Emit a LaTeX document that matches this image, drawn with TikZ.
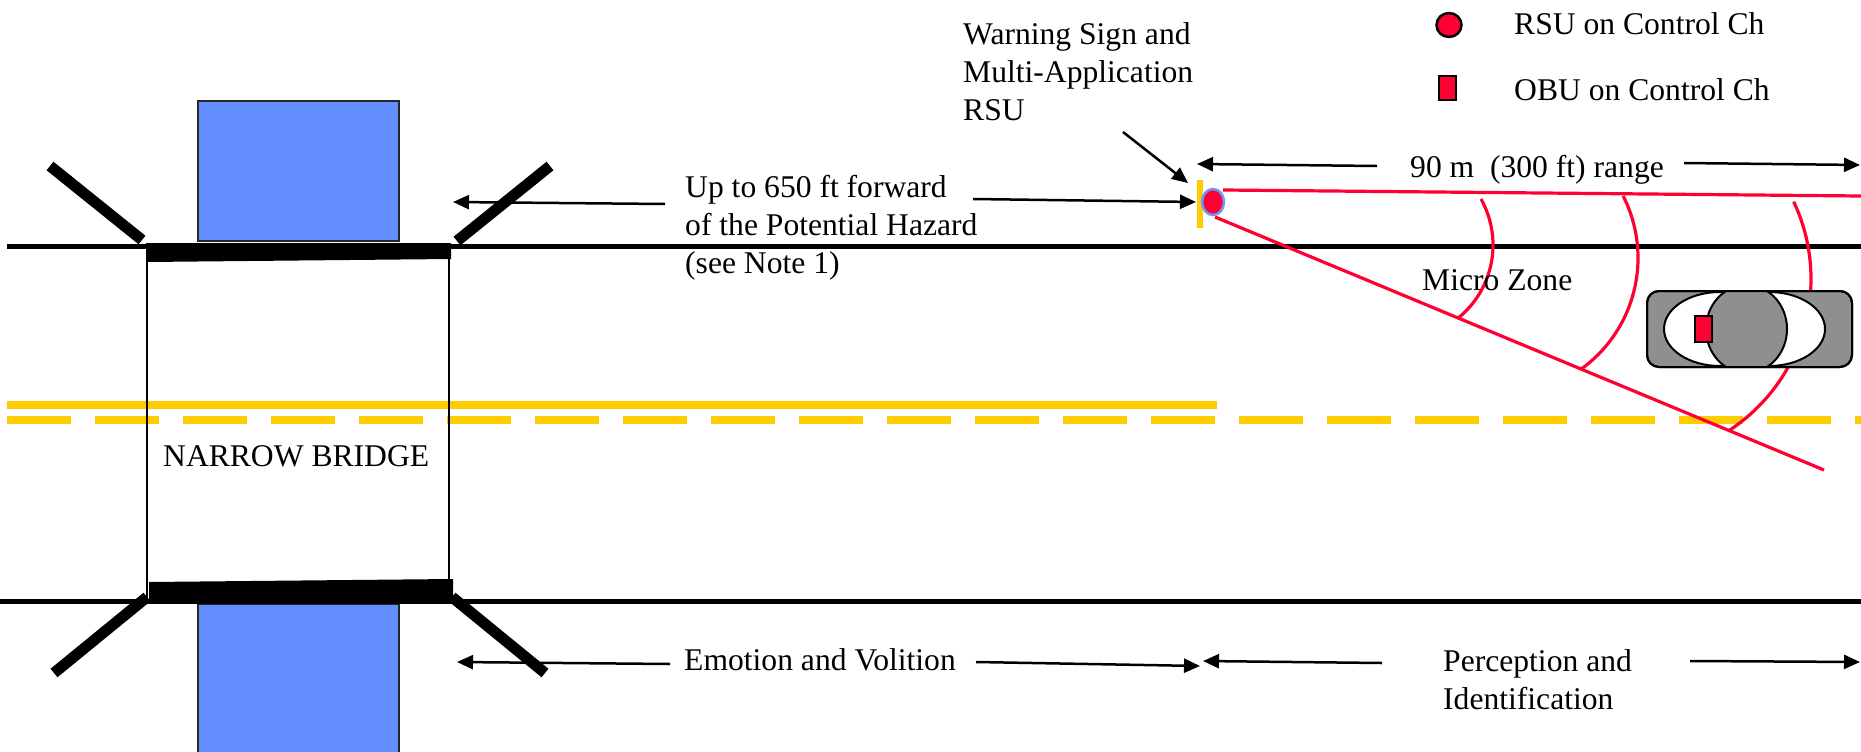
\documentclass[tikz,border=0pt]{standalone}
\usepackage{fontspec}
\setmainfont{Liberation Serif}
\usetikzlibrary{arrows.meta}
\definecolor{laneyellow}{RGB}{255,204,0}
\definecolor{pierblue}{RGB}{99,142,255}
\definecolor{zonered}{RGB}{255,0,51}
\definecolor{cargray}{RGB}{143,143,143}
\definecolor{rsuedge}{RGB}{107,150,255}
\begin{document}
\begin{tikzpicture}[x=1pt,y=-1pt,
  lbl/.style={font=\fontsize{31.6}{38}\selectfont, inner sep=0pt, anchor=base west},
  dimarrow/.style={line width=2.5pt, -{Triangle[length=16pt,width=14pt]}},
  wall/.style={line width=11pt},
  roadedge/.style={line width=5pt},
  lane/.style={laneyellow, line width=7.5pt},
  zone/.style={zonered, line width=3.2pt},
  pier/.style={fill=pierblue, draw=black!85, line width=2pt},
  blk/.style={draw=black, line width=2.5pt},
]
\useasboundingbox (0,0) rectangle (1861,752);

% bridge piers
\draw[pier] (198,101) rectangle (399,241);
\draw[pier] (198,604) rectangle (399,760);

% road edges
\draw[roadedge] (7,246) -- (1861,246);
\draw[roadedge] (0,601) -- (1861,601);

% centre lines
\draw[lane] (7,405) -- (1217,405);
\draw[lane, dash pattern=on 64pt off 24pt] (7,420) -- (1861,420);

% narrow bridge deck and rails
\fill (147,243) -- (451,243) -- (451,259) -- (147,262) -- cycle;
\fill (149,582) -- (453,579) -- (453,599) -- (149,599) -- cycle;
\draw[line width=2pt] (147,243) -- (147,599);
\draw[line width=2pt] (449,243) -- (449,599);

% wing walls
\draw[wall] (50,166) -- (142,240);
\draw[wall] (550,166) -- (457,241);
\draw[wall] (147,597) -- (54,673);
\draw[wall] (452,597) -- (545,673);

\node[lbl] (bridge) at (163,466) {NARROW BRIDGE};

% warning sign post and RSU
\fill[laneyellow] (1197,180) rectangle (1203,228);
\draw[rsuedge, fill=zonered, line width=2.5pt] (1213,202) ellipse [x radius=11, y radius=13];

% micro zone
\coordinate (zoneTopA) at (1223,190);
\coordinate (zoneTopB) at (1861,196);
\coordinate (zoneLowA) at (1215,217);
\coordinate (zoneLowB) at (1824,470);
\draw[zone] (zoneTopA) -- (zoneTopB);
\draw[zone] (zoneLowA) -- (zoneLowB);
\draw[zone] plot[domain=-29.3:51.1, samples=40, smooth] ({1399+94*cos(\x)},{245+94*sin(\x)});
\draw[zone] plot[domain=-26.9:53.9, samples=40, smooth] ({1501+137*cos(\x)},{258+137*sin(\x)});
\draw[zone] plot[domain=-25.3:56.7, samples=50, smooth] ({1630+181*cos(\x)},{279+181*sin(\x)});
\node[lbl] (micro) at (1422,290) {Micro Zone};

% vehicle with OBU
\draw[line width=2pt, fill=cargray, rounded corners=12pt] (1647,291) rectangle (1852,367);
\begin{scope}
  \clip[rounded corners=12pt] (1647,291) rectangle (1852,367);
  \draw[fill=white, line width=2pt] (1720,329) ellipse [x radius=56, y radius=37];
  \draw[fill=white, line width=2pt] (1769,329) ellipse [x radius=56, y radius=37];
  \draw[fill=cargray, line width=2pt] (1746.5,329) ellipse [x radius=40.5, y radius=44];
\end{scope}
\draw[line width=2pt, rounded corners=12pt] (1647,291) rectangle (1852,367);
\draw[fill=zonered, line width=2pt] (1695,316) rectangle (1712,342);

% legend
\draw[blk, fill=zonered] (1449,25) ellipse [x radius=12.5, y radius=12];
\node[lbl] (legRSU) at (1514,35) {RSU on Control Ch};
\draw[blk, fill=zonered] (1439,76) rectangle (1456,100);
\node[lbl] (legOBU) at (1514,100) {OBU on Control Ch};

% labels
\node[lbl] (warn) at (963,45) {\vtop{\hbox{Warning Sign and}\hbox{Multi-Application}\hbox{RSU}}};
\node[lbl] (hazard) at (685,197) {\vtop{\hbox{Up to 650 ft forward}\hbox{of the Potential Hazard}\hbox{(see Note 1)}}};
\node[lbl, anchor=base] (range) at (1537,177) {90 m\ \ (300 ft) range};
\node[lbl] (emotion) at (684,670) {Emotion and Volition};
\node[lbl] (percep) at (1443,671) {\vtop{\hbox{Perception and}\hbox{Identification}}};

% dimension arrows
\coordinate (warnTail) at (1123,132);
\coordinate (warnTip) at (1188,183);
\coordinate (hazLTail) at (665,204);
\coordinate (hazLTip) at (453,202);
\coordinate (hazRTail) at (973,199);
\coordinate (hazRTip) at (1196,202);
\coordinate (rngLTail) at (1377,166);
\coordinate (rngLTip) at (1197,164);
\coordinate (rngRTail) at (1684,163);
\coordinate (rngRTip) at (1860,165);
\coordinate (emoLTail) at (670,664);
\coordinate (emoLTip) at (457,662);
\coordinate (emoRTail) at (976,662);
\coordinate (emoRTip) at (1200,666);
\coordinate (perLTail) at (1382,663);
\coordinate (perLTip) at (1203,661);
\coordinate (perRTail) at (1690,661);
\coordinate (perRTip) at (1860,662);

\draw[dimarrow] (warnTail) -- (warnTip);
\draw[dimarrow] (hazLTail) -- (hazLTip);
\draw[dimarrow] (hazRTail) -- (hazRTip);
\draw[dimarrow] (rngLTail) -- (rngLTip);
\draw[dimarrow] (rngRTail) -- (rngRTip);
\draw[dimarrow] (emoLTail) -- (emoLTip);
\draw[dimarrow] (emoRTail) -- (emoRTip);
\draw[dimarrow] (perLTail) -- (perLTip);
\draw[dimarrow] (perRTail) -- (perRTip);
\end{tikzpicture}
\end{document}
